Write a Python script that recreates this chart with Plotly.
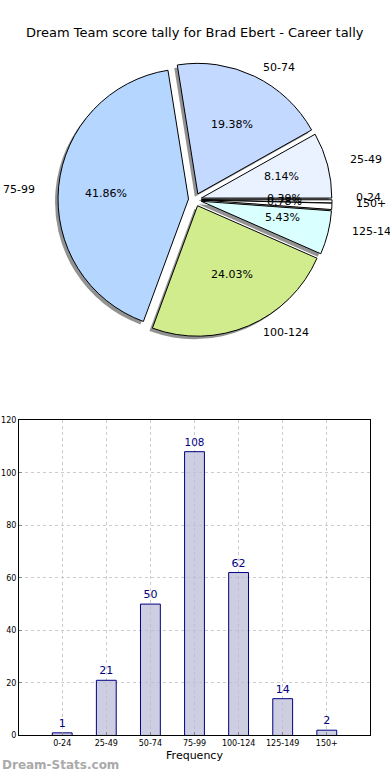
import math
import plotly.graph_objects as go

categories = ["0-24", "25-49", "50-74", "75-99", "100-124", "125-149", "150+"]
counts = [1, 21, 50, 108, 62, 14, 2]
pie_colors = ["#ffffff", "#eaf1ff", "#c4d9ff", "#b4d6ff", "#d1ec8c", "#d9ffff", "#ffffff"]
title_text = "Dream Team score tally for Brad Ebert - Career tally"
y_ticks = [0, 20, 40, 60, 80, 100, 120]

W, H = 390, 780
FONT = "DejaVu Sans"

# pie geometry in pixels
cx, cy = 195, 198
r = 132
pull = 0.05
half = r * (1 + pull)

def dom(x0, x1, y0, y1):
    return dict(x=[x0 / W, x1 / W], y=[1 - y1 / H, 1 - y0 / H])

fig = go.Figure()

# shadow
sh = 3
fig.add_trace(go.Pie(
    values=counts, labels=categories, sort=False, direction="counterclockwise",
    rotation=90, pull=[pull] * len(counts),
    marker=dict(colors=["rgba(110,110,110,0.75)"] * len(counts), line=dict(width=0)),
    textinfo="none", hoverinfo="skip", showlegend=False,
    domain=dom(cx - half - sh, cx + half - sh, cy - half + sh, cy + half + sh),
))
fig.add_trace(go.Pie(
    values=counts, labels=categories, sort=False, direction="counterclockwise",
    rotation=90, pull=[pull] * len(counts),
    marker=dict(colors=pie_colors, line=dict(color="#000000", width=1)),
    textinfo="none", showlegend=False,
    domain=dom(cx - half, cx + half, cy - half, cy + half),
))

# text placement follows the (slightly wider than tall) original layout
rx, ry = 138, 128
total = sum(counts)
annotations = []
cum = 0
for lab, v in zip(categories, counts):
    a0 = cum / total * 2 * math.pi
    cum += v
    a1 = cum / total * 2 * math.pi
    am = (a0 + a1) / 2
    ox = cx + pull * rx * math.cos(am)
    oy = cy - pull * ry * math.sin(am)
    lx = ox + 1.1 * rx * math.cos(am)
    ly = oy - 1.1 * ry * math.sin(am)
    annotations.append(dict(
        x=lx / W, y=1 - ly / H, xref="paper", yref="paper", text=lab, showarrow=False,
        xanchor="left" if math.cos(am) > 0 else "right", yanchor="middle",
        font=dict(family=FONT, size=11, color="#000000")))
    px_ = ox + 0.6 * rx * math.cos(am)
    py_ = oy - 0.6 * ry * math.sin(am)
    annotations.append(dict(
        x=px_ / W, y=1 - py_ / H, xref="paper", yref="paper",
        text="%.2f%%" % (100 * v / total), showarrow=False,
        xanchor="center", yanchor="middle",
        font=dict(family=FONT, size=11, color="#000000")))

annotations.append(dict(
    x=0.5, y=1 - 29 / H, xref="paper", yref="paper", text=title_text, showarrow=False,
    xanchor="center", yanchor="middle", font=dict(family=FONT, size=13, color="#000000")))
annotations.append(dict(
    x=0, y=1 - 770 / H, xref="paper", yref="paper", text="<b>Dream-Stats.com</b>",
    showarrow=False, xanchor="left", yanchor="middle",
    font=dict(family=FONT, size=12, color="#aaaaaa")))

# bar chart
fig.add_trace(go.Bar(
    x=list(range(len(categories))), y=counts, width=0.45,
    marker=dict(color="rgba(185,185,215,0.7)", line=dict(color="#000080", width=1)),
    text=[str(c) for c in counts], textposition="outside", cliponaxis=False,
    textfont=dict(family=FONT, size=11, color="#000080"),
    showlegend=False, xaxis="x", yaxis="y",
))

fig.update_layout(
    width=W, height=H, margin=dict(l=0, r=0, t=0, b=0),
    paper_bgcolor="white", plot_bgcolor="white",
    annotations=annotations,
    xaxis=dict(
        domain=[19 / W, 370 / W], anchor="y", range=[-0.98, 6.98],
        tickmode="array", tickvals=list(range(len(categories))), ticktext=categories,
        tickfont=dict(family=FONT, size=8, color="#000000"),
        showgrid=True, gridcolor="#cccccc", griddash="dot", gridwidth=1,
        showline=True, linecolor="#000000", linewidth=1, mirror=True,
        ticks="inside", ticklen=3, tickcolor="#888888", layer="above traces",
        title=dict(text="Frequency", font=dict(family=FONT, size=11, color="#000000"), standoff=4),
        zeroline=False, fixedrange=True,
    ),
    yaxis=dict(
        domain=[1 - 740 / H, 1 - 421 / H], anchor="x", range=[0, 120],
        tickmode="array", tickvals=y_ticks,
        tickfont=dict(family=FONT, size=8, color="#000000"),
        showgrid=True, gridcolor="#cccccc", griddash="dot", gridwidth=1,
        showline=True, linecolor="#000000", linewidth=1, mirror=True,
        ticks="inside", ticklen=3, tickcolor="#888888", layer="above traces",
        zeroline=False, fixedrange=True,
    ),
)

fig.write_html(
    "out.html",
    config={"displayModeBar": False, "staticPlot": True},
    post_script="document.body.style.margin='0';document.body.style.overflow='hidden';",
)
